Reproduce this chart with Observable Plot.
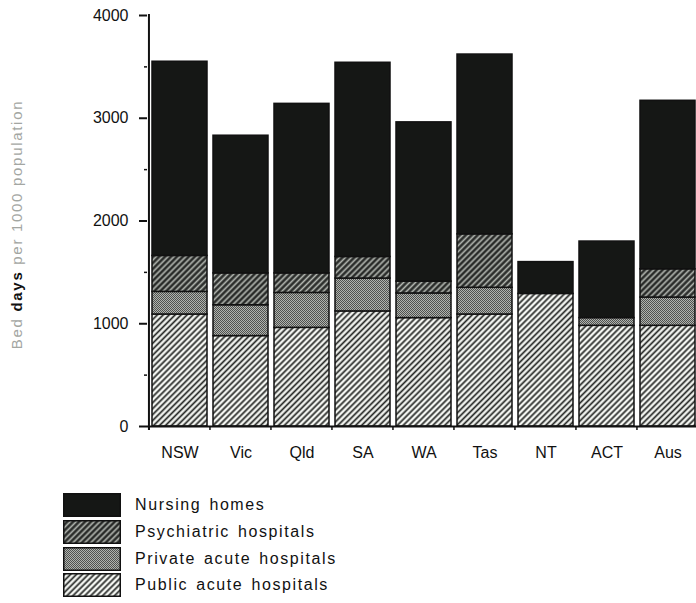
<!DOCTYPE html>
<html>
<head>
<meta charset="utf-8">
<script src="https://cdn.jsdelivr.net/npm/d3@7"></script>
<script src="https://cdn.jsdelivr.net/npm/@observablehq/plot@0.6"></script>
<style>
  html, body { margin: 0; padding: 0; background: #fff; overflow: hidden; }
  body { width: 696px; height: 603px; font-family: "Liberation Sans", Arial, Helvetica, sans-serif; }
  #legend { margin: 22px 0 0 63px; }
  .row { display: flex; align-items: center; height: 26.7px; }
  .row svg { display: block; margin-right: 14px; }
  .row span { font-size: 16px; letter-spacing: 1.6px; word-spacing: 2px; color: #111; }
</style>
</head>
<body>
<div id="chart"></div>
<div id="legend"></div>
<script>
// Bed days per 1000 population, by state and type of institution
const states = ["NSW", "Vic", "Qld", "SA", "WA", "Tas", "NT", "ACT", "Aus"];
const types = ["Public acute hospitals", "Private acute hospitals", "Psychiatric hospitals", "Nursing homes"];
const publicAcute  = [1090,  880,  960, 1120, 1055, 1090, 1290,  980,  980];
const privateAcute = [ 220,  300,  340,  320,  240,  260,    0,   75,  275];
const psychiatric  = [ 350,  310,  190,  210,  115,  520,    0,    0,  275];
const nursingHomes = [1890, 1340, 1650, 1890, 1550, 1750,  310,  745, 1640];
const yTicks = [0, 1000, 2000, 3000, 4000];
const yMinorTicks = [500, 1500, 2500, 3500];

const series = [publicAcute, privateAcute, psychiatric, nursingHomes];
const rows = states.flatMap((state, i) =>
  types.map((type, k) => ({state, type, value: series[k][i]}))
).filter(d => d.value > 0);

// Fill patterns, one per institution type
const fills = ["url(#pat-public)", "url(#pat-private)", "url(#pat-psych)", "#151715"];

function patternDefs() {
  const defs = d3.create("svg:defs");
  const hatch = (id, ground, ink, gap, w) => {
    const p = defs.append("pattern").attr("id", id)
      .attr("patternUnits", "userSpaceOnUse")
      .attr("width", gap).attr("height", gap)
      .attr("patternTransform", "rotate(45)");
    p.append("rect").attr("width", gap).attr("height", gap).attr("fill", ground);
    p.append("line").attr("x1", gap / 2).attr("x2", gap / 2)
      .attr("y1", -1).attr("y2", gap + 1)
      .attr("stroke", ink).attr("stroke-width", w);
  };
  hatch("pat-public", "#f3f5f1", "#262826", 4.2, 1.7);
  hatch("pat-psych", "#2a2c2a", "#b4b8b2", 4.2, 1.6);
  const q = defs.append("pattern").attr("id", "pat-private")
    .attr("patternUnits", "userSpaceOnUse").attr("width", 2).attr("height", 2);
  q.append("rect").attr("width", 2).attr("height", 2).attr("fill", "#b0b3ae");
  q.append("rect").attr("width", 1).attr("height", 1).attr("fill", "#505250");
  q.append("rect").attr("x", 1).attr("y", 1).attr("width", 1).attr("height", 1).attr("fill", "#505250");
  return defs.node();
}

// Ticks on the category axis sit between the bars; the y axis line is drawn by hand
function frameLines(index, {x, y}) {
  const g = d3.create("svg:g").attr("stroke", "#111");
  const step = x.step();
  const inner = step * x.paddingInner();
  const x0 = x(states[0]) - inner / 2;
  const bounds = states.map((s) => x(s) - inner / 2);
  g.append("line").attr("x1", x0).attr("x2", x0)
    .attr("y1", y(0) + 4).attr("y2", y(4000) - 1).attr("stroke-width", 2);
  for (const b of bounds) {
    g.append("line").attr("x1", b).attr("x2", b)
      .attr("y1", y(0)).attr("y2", y(0) + 4).attr("stroke-width", 1.5);
  }
  return g.node();
}

// Rotated y-axis title with the emphasized word in bold
function yTitle(index, {y}) {
  const t = d3.create("svg:text")
    .attr("transform", `translate(22,${(y(0) + y(4000)) / 2 + 4}) rotate(-90)`)
    .attr("text-anchor", "middle")
    .attr("font-size", 15)
    .attr("letter-spacing", "1.7px")
    .attr("fill", "#a3a6a2");
  t.append("tspan").text("Bed ");
  t.append("tspan").attr("font-weight", "bold").attr("fill", "#111").text("days");
  t.append("tspan").text(" per 1000 population");
  return t.node();
}

const chart = Plot.plot({
  width: 696,
  height: 470,
  marginLeft: 147,
  marginRight: 0,
  marginTop: 15,
  marginBottom: 44,
  style: {fontFamily: "'Liberation Sans', Arial, sans-serif", fontSize: "16px", color: "#111", background: "#fff", overflow: "visible"},
  x: {domain: states, range: [147, 699], paddingInner: 0.1, paddingOuter: 0.05, label: null},
  y: {domain: [0, 4000], label: null},
  color: {domain: types, range: fills},
  marks: [
    patternDefs,
    Plot.barY(rows, {x: "state", y: "value", fill: "type", order: types, stroke: "#111", strokeWidth: 1.5}),
    Plot.ruleY([0], {stroke: "#111", strokeWidth: 2}),
    Plot.axisY({ticks: yTicks, tickSize: 8, tickPadding: 11, tickFormat: d => String(d), strokeWidth: 2, letterSpacing: "1.3px", label: null}),
    Plot.axisY({ticks: yMinorTicks, tickSize: 3, tickFormat: null, text: null, strokeWidth: 1.5, label: null}),
    Plot.axisX({tickSize: 0, tickPadding: 20, letterSpacing: "1.5px", label: null}),
    frameLines,
    yTitle
  ]
});
document.getElementById("chart").append(chart);

// Legend: stacked from top layer down
const legend = d3.select("#legend");
for (let k = types.length - 1; k >= 0; k--) {
  const row = legend.append("div").attr("class", "row");
  const sw = row.append("svg").attr("width", 58).attr("height", 24);
  sw.append("rect").attr("x", 0.75).attr("y", 0.75).attr("width", 56.5).attr("height", 22.5)
    .attr("fill", fills[k]).attr("stroke", "#111").attr("stroke-width", 1.5);
  row.append("span").text(types[k]);
}
</script>
</body>
</html>
